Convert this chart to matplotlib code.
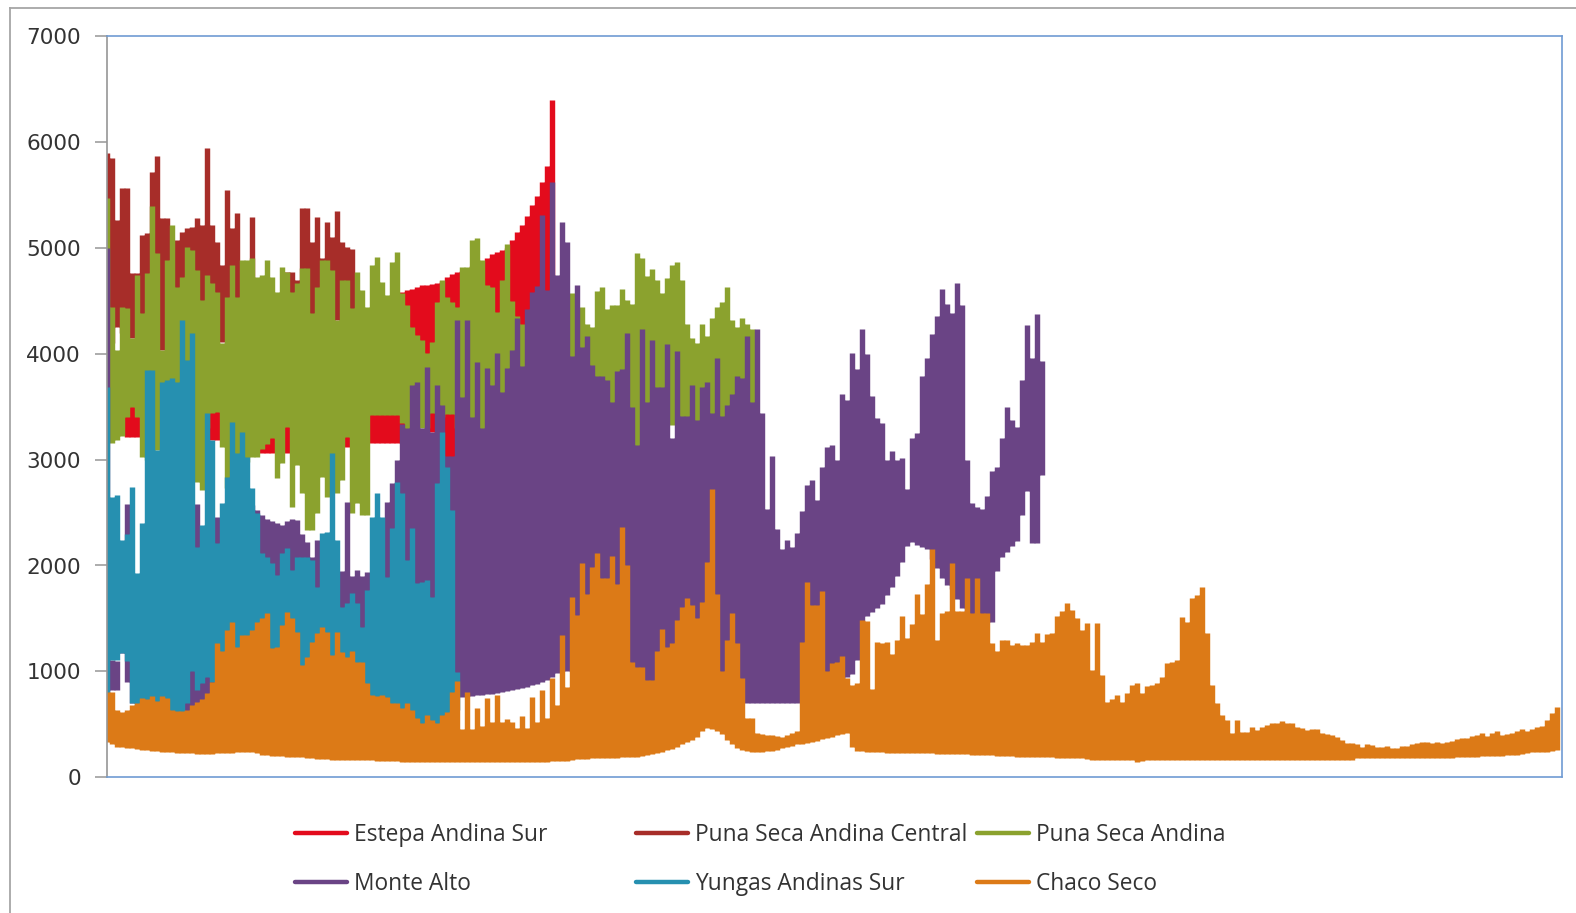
"""
Elevation by longitude band for six ecoregions, Excel style line chart.
Each category holds a low and a high reading, joined by a vertical stroke.
"""

import numpy as np
import matplotlib
matplotlib.use("Agg")
import matplotlib.pyplot as plt
from matplotlib.lines import Line2D

W, H = 1576, 913

YTICKS = [0, 1000, 2000, 3000, 4000, 5000, 6000, 7000]
N_CATEGORIES = 291

estepa_hi = [
    4000, 4000, 4000, 4000, 4000, 4000, 4000, 4000, 4000, 4000,
    4000, 4000, 4000, 4000, 4000, 4000, 4000, 4000, 4000, 4000,
    4000, 4000, 4000, 4000, 4000, 4000, 4000, 4000, 4000, 4000,
    4000, 4000, 4000, 4000, 4000, 4000, 4000, 4000, 4000, 4000,
    4000, 4000, 4000, 4000, 4000, 4000, 4000, 4000, 4000, 4000,
    4000, 4000, 4000, 4000, 4000, 4000, 4000, 4000, 4000, 4587,
    4600, 4610, 4630, 4645, 4650, 4660, 4665, 4690, 4725, 4750,
    4775, 4780, 4800, 4830, 4850, 4880, 4905, 4940, 4960, 4980,
    5000, 5070, 5150, 5220, 5300, 5400, 5490, 5620, 5770, 6400,
]
estepa_lo = [
    3400, 3400, 3400, 3400, 3217, 3217, 3217, 3400, 3400, 3400,
    3400, 3400, 3400, 3400, 3400, 3400, 3400, 3400, 3400, 3400,
    3300, 3186, 3186, 3400, 3400, 3400, 3400, 3400, 3400, 3400,
    3400, 3060, 3060, 3060, 3400, 3400, 3060, 3400, 3400, 3400,
    3400, 3400, 3400, 3400, 3400, 3400, 3400, 3400, 3123, 3400,
    3400, 3400, 3400, 3154, 3154, 3154, 3154, 3154, 3154, 3154,
    3217, 3300, 3400, 3400, 3400, 3264, 3264, 3264, 3028, 3028,
    3500, 3500, 3500, 3500, 3500, 3500, 3500, 3500, 3500, 3500,
    3500, 3500, 3500, 3500, 3500, 3500, 3500, 3500, 3500, 3500,
]

puna_central_hi = [
    5893, 5846, 5264, 5563, 5563, 4760, 4760, 5122, 5138, 5720,
    5868, 5280, 5280, 4900, 5075, 5153, 5185, 5200, 5280, 5216,
    5940, 5216, 5059, 4838, 5547, 5185, 5333, 4700, 4700, 5295,
    4700, 4500, 4500, 4500, 4500, 4500, 4775, 4775, 4700, 5374,
    5374, 5059, 5295, 4900, 5241, 5100, 5352, 5059, 5012, 4987,
]
puna_central_lo = [
    4100, 4100, 4256, 4200, 4200, 4146, 4200, 4200, 4200, 4200,
    4200, 4036, 4200, 4200, 4200, 4200, 4200, 4200, 4200, 4200,
    4200, 4200, 4200, 4114, 4200, 4200, 4200, 4200, 4200, 4200,
    4200, 4200, 4200, 4200, 4200, 4200, 4200, 4200, 4200, 4200,
    4200, 4200, 4200, 4200, 4200, 4200, 4319, 4200, 4200, 4200,
]

puna_hi = [
    5468, 4445, 4035, 4445, 4430, 4146, 4744, 4382, 4760, 5390,
    4949, 4036, 4886, 5216, 4634, 4728, 5012, 4980, 4791, 4508,
    4744, 4665, 4587, 4099, 4540, 4838, 4540, 4886, 4886, 4901,
    4728, 4744, 4886, 4728, 4587, 4823, 4775, 4587, 4665, 4807,
    4807, 4382, 4634, 4886, 4886, 4791, 4319, 4697, 4697, 4430,
    4775, 4602, 4445, 4838, 4917, 4681, 4555, 4870, 4958, 4571,
    4461, 4256, 4177, 4130, 4004, 4114, 4492, 4697, 4539, 4492,
    4445, 4823, 4823, 5075, 5090, 4886, 4650, 4634, 4398, 4700,
    5037, 4500, 4360, 4280, 4200, 4000, 4000, 4000, 4000, 4000,
    4000, 4000, 4000, 4577, 4400, 4440, 4285, 4251, 4595, 4629,
    4423, 4457, 4457, 4612, 4509, 4474, 4955, 4904, 4732, 4800,
    4698, 4577, 4715, 4835, 4869, 4698, 4285, 4148, 4097, 4285,
    4165, 4337, 4440, 4492, 4629, 4320, 4251, 4337, 4285, 4234,
]
puna_lo = [
    3200, 3154, 3186, 3224, 3400, 3500, 3406, 3028, 2997, 2900,
    3091, 3312, 3000, 3000, 3000, 3000, 3000, 3000, 2792, 2713,
    3300, 3437, 3450, 3123, 2729, 3000, 3000, 3000, 2981, 3028,
    3028, 3100, 3150, 3200, 2824, 2965, 3312, 2556, 2950, 2682,
    2336, 2336, 2500, 2840, 2650, 2700, 2682, 2808, 3217, 2493,
    2588, 2478, 2478, 3422, 3422, 3422, 3422, 3422, 3422, 3343,
    3250, 3300, 3300, 3300, 3300, 3437, 3437, 3400, 3430, 3430,
    3300, 3300, 3300, 3300, 3300, 3280, 3300, 3300, 3300, 3300,
    3400, 3400, 3400, 3400, 3400, 3400, 3400, 3400, 3400, 3400,
    3400, 3400, 3400, 3400, 3400, 3400, 3400, 3400, 3400, 3400,
    3400, 3400, 3400, 3400, 3400, 3300, 3100, 3300, 3300, 3300,
    3400, 3400, 3400, 3324, 3400, 3300, 3300, 3400, 3300, 3400,
    3300, 3300, 3400, 3300, 3400, 3400, 3400, 3400, 3400, 3530,
]

monte_hi = [
    5000, 1110, 1100, 2000, 2580, 1100, 1100, 1100, 1100, 1100,
    1100, 1100, 1100, 1100, 1100, 1100, 1100, 1100, 2580, 1100,
    1100, 1100, 2460, 1500, 1500, 1500, 1500, 1500, 1500, 2572,
    2520, 2477, 2440, 2420, 2400, 2380, 2420, 2440, 2430, 2300,
    2220, 2084, 2240, 2100, 2000, 1950, 1930, 1950, 2600, 1900,
    1960, 1900, 1940, 1500, 1500, 1500, 2600, 2776, 3000, 3340,
    3300, 3705, 3737, 3300, 3878, 3264, 3705, 3516, 3030, 3030,
    4319, 3595, 4319, 3400, 3925, 3300, 3863, 3700, 4004, 3640,
    3863, 4036, 4335, 3880, 4420, 4587, 4640, 5310, 4600, 5625,
    4740, 5248, 5058, 3977, 4646, 4062, 4165, 3890, 3788, 3788,
    3753, 3547, 3839, 3856, 4192, 3495, 3135, 4234, 3547, 4131,
    3684, 3684, 4096, 3204, 4028, 3410, 3410, 3702, 3376, 3684,
    3736, 3444, 3959, 3410, 3513, 3616, 3788, 3770, 4165, 3547,
    4234, 3444, 2534, 3032, 2345, 2156, 2242, 2174, 2311, 2517,
    2757, 2809, 2620, 2929, 3118, 3135, 2998, 3616, 3564, 4011,
    3856, 4234, 3994, 3599, 3393, 3341, 2998, 3084, 2998, 3015,
    2723, 3204, 3255, 3788, 3959, 4183, 4354, 4612, 4474, 4389,
    4663, 4457, 2998, 2586, 2551, 2534, 2654, 2895, 2929, 3204,
    3496, 3376, 3307, 3753, 4268, 3959, 4371, 3930,
]
monte_lo = [
    800, 825, 825, 1171, 900, 700, 700, 700, 700, 700,
    700, 700, 700, 700, 700, 620, 620, 620, 620, 620,
    700, 700, 700, 700, 700, 700, 700, 700, 700, 700,
    700, 700, 700, 700, 700, 700, 700, 700, 700, 700,
    700, 700, 700, 700, 700, 700, 700, 700, 700, 700,
    700, 700, 700, 700, 700, 700, 700, 700, 700, 700,
    700, 700, 700, 700, 700, 700, 700, 700, 700, 700,
    900, 760, 765, 770, 775, 780, 785, 790, 800, 810,
    815, 825, 835, 845, 855, 870, 885, 900, 920, 950,
    985, 1000, 1006, 1000, 950, 900, 900, 900, 900, 900,
    900, 900, 900, 900, 900, 750, 750, 750, 750, 750,
    750, 750, 750, 750, 750, 750, 750, 750, 750, 750,
    750, 750, 750, 750, 750, 750, 750, 750, 700, 700,
    700, 705, 700, 700, 705, 700, 700, 705, 700, 750,
    750, 750, 750, 750, 750, 750, 750, 750, 950, 980,
    1110, 1470, 1520, 1560, 1600, 1640, 1720, 1800, 1900, 2030,
    2180, 2225, 2190, 2170, 2156, 2060, 1980, 1880, 1820, 1780,
    1680, 1600, 1520, 1480, 1470, 1470, 1470, 1470, 1950, 2080,
    2130, 2180, 2230, 2480, 2706, 2208, 2208, 2850,
]

yungas_hi = [
    3689, 2650, 2666, 2241, 2300, 2739, 1926, 2400, 3847, 3847,
    3091, 3737, 3753, 3768, 3737, 4319, 3941, 4193, 2178, 2383,
    3437, 3186, 2210, 2588, 2840, 3359, 3060, 3264, 3028, 2729,
    2493, 2115, 2084, 2021, 1911, 2115, 2163, 1958, 2084, 2084,
    2084, 2052, 1800, 2304, 2320, 3060, 2241, 1612, 1643, 1738,
    1643, 1423, 1770, 2462, 2682, 2462, 1895, 2352, 2792, 2682,
    2052, 2352, 1832, 1848, 1864, 1706, 2777, 3264, 2934, 2525,
    998,
]
yungas_lo = [
    640, 1108, 1108, 1171, 1100, 700, 660, 650, 640, 640,
    640, 630, 620, 620, 615, 615, 700, 1000, 825, 888,
    950, 900, 1000, 1000, 1000, 1000, 1000, 1000, 1000, 1000,
    1000, 1000, 1000, 1000, 1000, 1000, 1000, 1000, 1000, 1000,
    1000, 1000, 1000, 1000, 1000, 1000, 1000, 1000, 1000, 1000,
    800, 800, 700, 700, 700, 700, 700, 650, 650, 600,
    600, 600, 500, 480, 500, 500, 480, 500, 550, 600,
    636,
]

chaco_hi = [
    810, 810, 636, 620, 636, 683, 700, 752, 740, 765,
    720, 765, 745, 640, 630, 625, 640, 680, 710, 740,
    800, 900, 1265, 1190, 1390, 1470, 1235, 1345, 1340, 1390,
    1470, 1500, 1550, 1220, 1230, 1440, 1565, 1500, 1375, 1060,
    1140, 1280, 1360, 1415, 1375, 1155, 1375, 1185, 1135, 1195,
    1090, 1090, 890, 780, 770, 780, 760, 700, 700, 655,
    700, 635, 560, 510, 590, 540, 510, 590, 620, 810,
    905, 460, 810, 460, 650, 480, 745, 520, 780, 520,
    555, 520, 465, 575, 465, 760, 520, 825, 560, 935,
    685, 1345, 855, 1705, 1530, 2020, 1727, 1985, 2120, 1880,
    1880, 2090, 1830, 2360, 2000, 1090, 1040, 1040, 920, 920,
    1195, 1400, 1230, 1265, 1487, 1607, 1693, 1630, 1504, 1658,
    2036, 2723, 1727, 1006, 1298, 1555, 1264, 937, 560, 560,
    422, 410, 400, 400, 390, 380, 400, 420, 440, 1280,
    1847, 1624, 1624, 1762, 1006, 1075, 1092, 1143, 937, 869,
    886, 1490, 1480, 834, 1280, 1264, 1280, 1160, 1298, 1521,
    1315, 1452, 1727, 1538, 1830, 2156, 1298, 1555, 1572, 2020,
    1572, 1572, 1882, 1555, 1882, 1555, 1555, 1264, 1195, 1298,
    1298, 1247, 1264, 1247, 1247, 1280, 1367, 1280, 1356, 1367,
    1521, 1572, 1643, 1580, 1500, 1391, 1454, 1013, 1454, 966,
    714, 736, 777, 714, 793, 872, 887, 800, 862, 872,
    887, 950, 1076, 1092, 1108, 1517, 1470, 1696, 1722, 1794,
    1360, 872, 699, 589, 541, 415, 541, 431, 431, 478,
    447, 478, 494, 516, 516, 532, 516, 510, 478, 463,
    447, 453, 453, 422, 409, 400, 378, 353, 327, 321,
    315, 290, 312, 305, 290, 283, 296, 274, 274, 296,
    299, 315, 327, 334, 337, 327, 337, 327, 337, 346,
    359, 375, 375, 390, 400, 415, 390, 422, 434, 397,
    409, 422, 438, 456, 438, 460, 472, 485, 541, 604, 667,
]
chaco_lo = [
    330, 310, 290, 285, 280, 275, 265, 260, 255, 250,
    245, 240, 238, 235, 232, 230, 228, 226, 224, 222,
    222, 222, 225, 228, 230, 232, 238, 240, 240, 235,
    225, 215, 208, 204, 200, 198, 196, 194, 192, 188,
    186, 180, 174, 170, 172, 168, 166, 164, 165, 163,
    162, 162, 160, 160, 158, 156, 150, 152, 150, 148,
    148, 146, 146, 146, 146, 148, 148, 146, 146, 148,
    148, 146, 148, 146, 148, 146, 148, 148, 146, 146,
    148, 148, 148, 146, 148, 148, 148, 146, 148, 150,
    150, 152, 158, 165, 170, 172, 175, 178, 180, 182,
    182, 184, 186, 188, 189, 192, 196, 202, 208, 218,
    228, 240, 255, 270, 290, 310, 330, 350, 385, 440,
    464, 460, 440, 410, 350, 310, 280, 255, 245, 242,
    240, 240, 245, 252, 262, 272, 285, 300, 310, 318,
    326, 335, 345, 358, 371, 385, 400, 410, 420, 285,
    250, 244, 240, 238, 236, 236, 234, 234, 233, 233,
    233, 230, 230, 228, 226, 225, 224, 223, 223, 222,
    220, 218, 216, 214, 212, 210, 208, 206, 204, 202,
    200, 198, 196, 195, 194, 192, 190, 190, 188, 188,
    182, 180, 182, 180, 182, 180, 175, 165, 164, 165,
    164, 164, 162, 164, 164, 164, 148, 155, 160, 164,
    164, 162, 164, 164, 162, 164, 164, 162, 164, 164,
    164, 164, 162, 164, 164, 162, 164, 164, 162, 164,
    164, 162, 164, 164, 162, 164, 164, 162, 164, 164,
    164, 162, 164, 164, 162, 164, 164, 162, 164, 164,
    180, 180, 180, 180, 180, 180, 180, 180, 180, 180,
    180, 180, 180, 180, 180, 180, 180, 180, 180, 180,
    195, 195, 196, 196, 196, 197, 197, 198, 198, 200,
    211, 212, 214, 220, 226, 236, 236, 238, 240, 250, 258,
]

SERIES = [
    ("Estepa Andina Sur", estepa_hi, estepa_lo, "#e30b1c"),
    ("Puna Seca Andina Central", puna_central_hi, puna_central_lo, "#a72d29"),
    ("Puna Seca Andina", puna_hi, puna_lo, "#8ba22e"),
    ("Monte Alto", monte_hi, monte_lo, "#6a4485"),
    ("Yungas Andinas Sur", yungas_hi, yungas_lo, "#2690b0"),
    ("Chaco Seco", chaco_hi, chaco_lo, "#dc7a17"),
]


def strokes(hi, lo):
    # one vertical stroke per category, broken with nan
    x = np.arange(len(hi), dtype=float)
    xs = np.column_stack([x, x, np.full(len(x), np.nan)]).ravel()
    ys = np.column_stack([lo, hi, np.full(len(x), np.nan)]).ravel()
    return xs, ys


fig = plt.figure(figsize=(W / 100, H / 100), dpi=100)
ax = fig.add_axes([106.7 / W, 1 - 777.3 / H, 1455 / W, 741.3 / H])

for name, hi, lo, color in SERIES:
    xs, ys = strokes(hi, lo)
    ax.plot(xs, ys, color=color, lw=3.9, solid_capstyle="butt")

ax.set_xlim(0, N_CATEGORIES)
ax.set_ylim(0, 7000)
ax.set_yticks(YTICKS)
ax.set_xticks([])
ax.tick_params(axis="y", length=8.6, width=1.1, color="#969696", pad=10,
               labelsize=15.5, labelcolor="#333333")
for side in ["top", "right", "bottom"]:
    ax.spines[side].set_color("#6f9bd3")
    ax.spines[side].set_linewidth(1.2)
ax.spines["left"].set_color("#969696")
ax.spines["left"].set_linewidth(1.2)

# outer chart frame, cut off by the screenshot on the right and bottom
fig.add_artist(Line2D([10 / W, 10 / W], [0, 1 - 8 / H], color="#a6a6a6", lw=1.3))
fig.add_artist(Line2D([10 / W, 1], [1 - 8 / H, 1 - 8 / H], color="#a6a6a6", lw=1.3))

# legend: three columns at fixed spots, first row on top
for col, col_x in enumerate([295, 636, 977]):
    handles = []
    for name, hi, lo, color in (SERIES[col], SERIES[col + 3]):
        handles.append(Line2D([0], [0], color=color, lw=3.2, solid_capstyle="round", label=name))
    fig.legend(handles=handles, loc="upper left",
               bbox_to_anchor=(col_x / W, 1 - 823 / H),
               frameon=False, borderpad=0, borderaxespad=0,
               handlelength=2.3, handletextpad=0.28, labelspacing=1.08,
               prop={"family": "Open Sans", "size": 16.4}, labelcolor="#333333")

fig.savefig("out.png", dpi=100)
